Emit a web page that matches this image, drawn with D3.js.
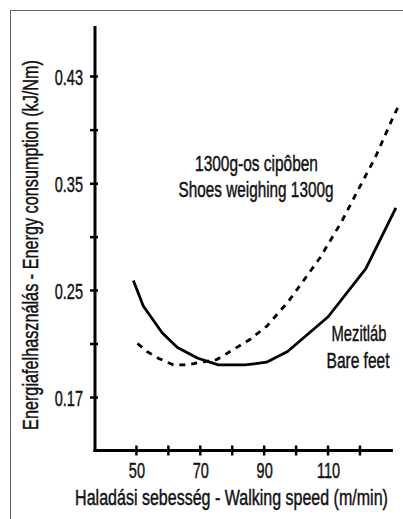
<!DOCTYPE html>
<html><head><meta charset="utf-8">
<script src="https://cdn.jsdelivr.net/npm/d3@7"></script>
<style>
html,body{margin:0;padding:0;background:#fff;}
svg text{font-family:"Liberation Sans",Arial,sans-serif;fill:#111;stroke:#111;stroke-width:0.45px;}
</style></head>
<body><svg id="c" width="403" height="519"></svg>
<script>
// ---- data ----
const xTickValues = [50, 60, 70, 80, 90, 100, 110, 120];
const xTickLabels = ["50", "", "70", "", "90", "", "110", ""];
const yTickValues = [0.17, 0.21, 0.25, 0.30, 0.35, 0.39, 0.43];
const yTickLabels = ["0.17", "", "0.25", "", "0.35", "", "0.43"];
const bareSpeed  = [49.2, 52.3, 58.2, 63.0, 69.4, 75.8, 84.2, 90.9, 97.5, 110.2, 122.0, 131.4];
const bareEnergy = [0.259, 0.238, 0.218, 0.207, 0.199, 0.194, 0.194, 0.196, 0.204, 0.230, 0.270, 0.327];
const shoeSpeed  = [50.5, 53.5, 57.0, 61.7, 66.4, 70.1, 75.3, 79.5, 85.7, 91.0, 97.6, 103.5, 107.6, 114.4, 119.6, 124.9, 130.1, 132.1];
const shoeEnergy = [0.210, 0.204, 0.199, 0.194, 0.194, 0.196, 0.198, 0.204, 0.213, 0.223, 0.241, 0.263, 0.280, 0.314, 0.344, 0.369, 0.397, 0.407];
const xTitle = "Haladási sebesség - Walking speed (m/min)";
const yTitle = "Energiafelhasználás - Energy consumption (kJ/Nm)";
const shoeLabel = ["1300g-os cipôben", "Shoes weighing 1300g"];
const bareLabel = ["Mezitláb", "Bare feet"];

// ---- chart ----
const FS = "22px";
const svg = d3.select("#c");
svg.append("rect").attr("x",10.5).attr("y",10.5).attr("width",420).attr("height",540)
  .attr("fill","none").attr("stroke","#666").attr("stroke-width",1);

const x = d3.scaleLinear().domain([37.5, 130.5]).range([96, 393]);
const y = d3.scaleLinear().domain([0.17, 0.25, 0.35, 0.43]).range([397, 290, 183.3, 76]);
const axisX = 95, axisY = 450.5, topY = 26;

// condensed text: natural glyphs squeezed horizontally to a target width
function ctext(parent, cx, cy, txt, width, rot){
  const t = parent.append("text").attr("text-anchor","middle").style("font-size",FS).text(txt);
  const w = t.node().getComputedTextLength();
  t.attr("transform",`translate(${cx},${cy}) rotate(${rot||0}) scale(${width/w},1)`);
  return t;
}
function squeezeTicks(sel, dx, dy, f){
  sel.style("font-size",FS).attr("x",0).attr("y",0).attr("dy",null)
     .attr("transform",`translate(${dx},${dy}) scale(${f},1)`);
}

// y axis
svg.append("line").attr("x1",axisX).attr("x2",axisX).attr("y1",topY).attr("y2",axisY+1.5).attr("stroke","#000").attr("stroke-width",3);
const yax = d3.axisLeft(y).tickValues(yTickValues).tickSize(0).tickFormat((d,i)=>yTickLabels[i]);
const gyt = svg.append("g").attr("transform",`translate(${axisX},0)`).call(yax);
gyt.attr("font-family",null).attr("font-size",null);
gyt.select(".domain").remove();
gyt.selectAll(".tick line").remove();
gyt.selectAll(".tick").append("line").attr("x1",-5).attr("x2",3).attr("stroke","#000").attr("stroke-width",2.5);
squeezeTicks(gyt.selectAll(".tick text").attr("fill","#111"), -12, 8, 0.66);

// x axis
svg.append("line").attr("x1",axisX-1.5).attr("x2",393).attr("y1",axisY).attr("y2",axisY).attr("stroke","#000").attr("stroke-width",3);
const xax = d3.axisBottom(x).tickValues(xTickValues).tickSize(0).tickFormat((d,i)=>xTickLabels[i]);
const gxt = svg.append("g").attr("transform",`translate(0,${axisY})`).call(xax);
gxt.attr("font-family",null).attr("font-size",null);
gxt.select(".domain").remove();
gxt.selectAll(".tick line").remove();
gxt.selectAll(".tick").append("line").attr("y1",-5).attr("y2",5).attr("stroke","#000").attr("stroke-width",2.5);
squeezeTicks(gxt.selectAll(".tick text").attr("fill","#111"), 0.5, 27, 0.66);

// titles
ctext(svg, 231.5, 505, xTitle, 313, 0);
ctext(svg, 38, 245, yTitle, 370, -90);

// lines
const line = d3.line().x(d=>x(d[0])).y(d=>y(d[1]));
const bare = bareSpeed.map((s,i)=>[s,bareEnergy[i]]);
const shoe = shoeSpeed.map((s,i)=>[s,shoeEnergy[i]]);
svg.append("path").attr("d",line(bare)).attr("fill","none").attr("stroke","#000").attr("stroke-width",2.8).attr("stroke-linejoin","round");
svg.append("path").attr("d",line(shoe)).attr("fill","none").attr("stroke","#000").attr("stroke-width",2.8).attr("stroke-dasharray","6,6");

// annotations
ctext(svg, 256.5, 171, shoeLabel[0], 123);
ctext(svg, 256, 197, shoeLabel[1], 155);
ctext(svg, 359, 341, bareLabel[0], 55);
ctext(svg, 358, 368, bareLabel[1], 63);
</script></body></html>
